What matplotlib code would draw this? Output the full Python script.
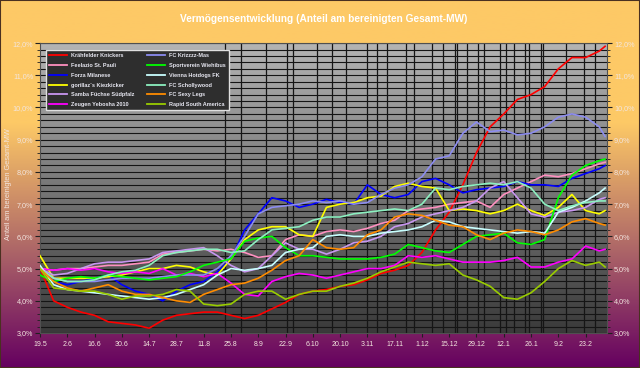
import numpy as np
import pandas as pd
import matplotlib
matplotlib.use('Agg')
import matplotlib.pyplot as plt
from matplotlib.colors import LinearSegmentedColormap
from matplotlib.ticker import MultipleLocator, FuncFormatter
from matplotlib.patches import Rectangle

plt.rcParams['font.family'] = ['Liberation Sans', 'DejaVu Sans']

# weekly samples from 19.5. on, last one a few days after the final week
start = pd.Timestamp('2010-05-19')
days = list(range(0, 288, 7)) + [290]
dates = [start + pd.Timedelta(days=d) for d in days]

teams = ['Krähfelder Knickers', 'Feelazio St. Pauli', 'Forza Milanese',
         'gorillaz´s Kiezkicker', 'Samba Füchse Südpfalz', 'Zeugen Yebosha 2010',
         'FC Krizzzz-Mas', 'Sportverein Wiehibus', 'Vienna Hotdogs FK',
         'FC Schollywood', 'FC Sexy Legs', 'Rapid South America']
colors = ['#ff0000', '#ff90c0', '#0000ff', '#ffff00', '#c896f0', '#ff00ff',
          '#8c8cf0', '#00ff00', '#c8ffff', '#8cf0c0', '#ff8c00', '#99cc00']

red = [5.0, 4.0, 3.8, 3.65, 3.55, 3.35, 3.3, 3.25, 3.15, 3.4, 3.55, 3.6, 3.65, 3.65,
       3.55, 3.45, 3.55, 3.75, 3.95, 4.2, 4.3, 4.35, 4.45, 4.5, 4.65, 4.85, 4.95, 5.1,
       5.5, 6.2, 6.75, 7.6, 8.6, 9.4, 9.8, 10.25, 10.4, 10.65, 11.2, 11.55, 11.55, 11.75, 11.9]
pink = [5.0, 4.95, 5.0, 5.0, 5.05, 5.1, 5.1, 5.15, 5.2, 5.45, 5.5, 5.55, 5.6, 5.55,
        5.6, 5.5, 5.35, 5.4, 5.9, 6.05, 6.0, 6.15, 6.2, 6.15, 6.25, 6.4, 6.5, 6.8,
        6.85, 6.9, 7.0, 7.05, 7.1, 6.9, 7.3, 7.5, 7.7, 7.9, 7.85, 7.95, 8.1, 8.25, 8.3]
blue = [5.0, 4.6, 4.5, 4.6, 4.7, 4.8, 4.5, 4.3, 4.2, 4.0, 4.3, 4.5, 4.6, 4.9,
        5.3, 6.2, 6.7, 7.2, 7.1, 6.9, 7.0, 7.15, 7.05, 7.0, 7.6, 7.3, 7.2, 7.3,
        7.7, 7.8, 7.6, 7.35, 7.45, 7.5, 7.55, 7.7, 7.6, 7.6, 7.55, 7.8, 7.95, 8.1, 8.2]
yellow = [5.4, 4.7, 4.7, 4.7, 4.7, 4.75, 4.8, 4.9, 5.0, 5.0, 5.1, 5.05, 4.9, 4.8,
          5.3, 5.9, 6.2, 6.3, 6.3, 6.05, 6.0, 6.9, 7.0, 7.05, 7.2, 7.25, 7.55, 7.65,
          7.55, 7.5, 6.8, 6.85, 6.8, 6.7, 6.8, 7.0, 6.8, 6.65, 6.9, 7.3, 6.8, 6.7, 6.8]
samba = [5.0, 4.8, 4.85, 5.0, 5.15, 5.2, 5.2, 5.25, 5.3, 5.5, 5.55, 5.6, 5.65, 5.4,
         5.1, 4.9, 5.0, 5.4, 5.8, 5.6, 5.6, 5.45, 5.6, 5.8, 5.85, 6.0, 6.3, 6.4,
         6.6, 6.7, 6.8, 6.9, 7.1, 7.5, 7.7, 7.2, 6.7, 6.6, 6.75, 6.8, 6.9, 7.15, 7.2]
magenta = [5.0, 4.95, 5.0, 4.95, 5.0, 4.9, 4.85, 4.9, 4.85, 5.0, 4.8, 4.85, 4.75, 4.85,
           4.55, 4.2, 4.15, 4.6, 4.75, 4.85, 4.8, 4.7, 4.8, 4.9, 5.0, 5.0, 5.1, 5.4,
           5.35, 5.4, 5.3, 5.2, 5.2, 5.2, 5.25, 5.35, 5.05, 5.05, 5.2, 5.3, 5.7, 5.55, 5.6]
krizzz = [5.0, 4.7, 4.6, 4.6, 4.6, 4.65, 4.7, 4.7, 4.7, 4.75, 4.8, 4.8, 4.8, 5.0,
          5.4, 6.0, 6.7, 6.9, 6.95, 7.0, 7.1, 7.05, 7.1, 7.0, 7.05, 7.3, 7.5, 7.6,
          7.85, 8.4, 8.5, 9.2, 9.55, 9.25, 9.3, 9.15, 9.2, 9.4, 9.7, 9.8, 9.7, 9.4, 9.1]
green = [4.8, 4.6, 4.7, 4.75, 4.7, 4.8, 4.75, 4.7, 4.65, 4.7, 4.75, 4.9, 5.1, 5.2,
         5.3, 5.85, 5.95, 6.0, 5.65, 5.4, 5.4, 5.35, 5.3, 5.3, 5.3, 5.35, 5.45, 5.75,
         5.65, 5.55, 5.5, 5.75, 6.0, 6.05, 6.1, 5.8, 5.75, 5.9, 7.2, 7.9, 8.2, 8.35, 8.4]
vienna = [5.1, 4.5, 4.35, 4.3, 4.25, 4.2, 4.15, 4.1, 4.05, 4.1, 4.2, 4.35, 4.5, 4.8,
          5.0, 4.95, 5.0, 5.1, 5.5, 5.6, 5.65, 6.0, 6.05, 6.0, 6.0, 6.1, 6.15, 6.2,
          6.3, 6.5, 6.45, 6.3, 6.25, 6.2, 6.15, 6.1, 6.15, 6.1, 6.75, 6.9, 7.1, 7.35, 7.5]
scholly = [5.0, 4.7, 4.6, 4.6, 4.65, 4.8, 4.9, 4.95, 5.1, 5.4, 5.5, 5.55, 5.6, 5.6,
           5.5, 5.55, 5.9, 6.2, 6.25, 6.3, 6.5, 6.6, 6.6, 6.7, 6.75, 6.8, 6.85, 6.8,
           7.0, 7.5, 7.45, 7.55, 7.6, 7.65, 7.6, 7.7, 7.5, 7.0, 6.8, 6.95, 7.05, 7.1, 7.1]
sexy = [5.0, 4.6, 4.4, 4.3, 4.4, 4.5, 4.3, 4.2, 4.2, 4.1, 4.0, 3.95, 4.2, 4.35,
        4.5, 4.55, 4.7, 4.95, 5.25, 5.4, 5.9, 5.65, 5.6, 5.65, 6.05, 6.2, 6.6, 6.7,
        6.65, 6.5, 6.35, 6.3, 6.05, 5.9, 6.1, 6.2, 6.15, 6.05, 6.2, 6.45, 6.55, 6.4, 6.35]
rapid = [5.0, 4.4, 4.35, 4.3, 4.3, 4.2, 4.05, 4.15, 4.15, 4.2, 4.35, 4.3, 3.9, 3.85,
         3.9, 4.2, 4.3, 4.3, 4.05, 4.2, 4.3, 4.3, 4.45, 4.55, 4.7, 4.9, 5.05, 5.2,
         5.15, 5.1, 5.15, 4.8, 4.65, 4.45, 4.1, 4.05, 4.25, 4.6, 5.0, 5.25, 5.1, 5.2, 5.05]
series = [red, pink, blue, yellow, samba, magenta, krizzz, green, vienna, scholly, sexy, rapid]

# dark vertical grid lines (days after 19.5.)
vlines_days = [95, 103, 116, 127, 130, 142, 150, 157, 168, 173, 178, 188, 192,
               201, 207, 213, 214, 219, 225, 228, 236, 239, 243, 249, 251,
               257, 258, 270, 279, 285]
tick_dates = pd.date_range(start, '2011-02-23', freq='14D')

fig = plt.figure(figsize=(6.4, 3.68), dpi=100)

# figure background: orange to purple
bg = fig.add_axes([0, 0, 1, 1], zorder=-10)
bg_cmap = LinearSegmentedColormap.from_list('bg', ['#650060', '#b06a68', '#fdc966', '#fdc966'])
bg.imshow(np.linspace(0, 1, 256).reshape(-1, 1), cmap=bg_cmap, aspect='auto',
          extent=(0, 1, 0, 1), origin='lower')
bg.set_axis_off()
fig.patches.append(Rectangle((0, 0), 1, 1, transform=fig.transFigure, fill=False,
                             edgecolor='#4a3020', lw=1.5))

ax = fig.add_axes([0.0625, 0.095, 0.886, 0.788])
plot_cmap = LinearSegmentedColormap.from_list('pl', ['#3a3a3a', '#b4b4b4'])
ax.imshow(np.linspace(0, 1, 256).reshape(-1, 1), cmap=plot_cmap, aspect='auto',
          extent=(0, 1, 0, 1), origin='lower', transform=ax.transAxes, zorder=0)

for d in vlines_days:
    ax.axvline(start + pd.Timedelta(days=d), color='#151515', lw=0.9, zorder=1)

for name, col, vals in zip(teams, colors, series):
    ax.plot(dates, vals, color=col, lw=1.2, label=name, zorder=3)

ax.set_xlim(start, start + pd.Timedelta(days=291))
ax.set_ylim(3, 12)
ax.yaxis.set_major_locator(MultipleLocator(1))
ax.yaxis.set_minor_locator(MultipleLocator(0.2))
ax.yaxis.set_major_formatter(FuncFormatter(lambda v, _: f'{v:.1f}%'.replace('.', ',')))
ax.grid(which='both', axis='y', color='#151515', lw=0.8, zorder=1)
ax.set_axisbelow(True)

ax.set_xticks(tick_dates)
ax.set_xticklabels([f'{d.day}.{d.month}' for d in tick_dates])

ax.tick_params(axis='y', which='both', left=True, right=True, labelright=True,
               labelsize=5.2, labelcolor='#f3e6e0', color='#202020', direction='out', pad=1.5)
ax.tick_params(axis='y', which='major', length=3.5)
ax.tick_params(axis='y', which='minor', length=2.5)
ax.tick_params(axis='x', labelsize=5, labelcolor='#f3e6e0', color='#202020', length=3, pad=2.5)
for s in ax.spines.values():
    s.set_color('#505050')

fig.text(0.505, 0.948, 'Vermögensentwicklung (Anteil am bereinigten Gesamt-MW)',
         ha='center', va='center', color='white', fontsize=7.3, fontweight='bold')
fig.text(0.013, 0.5, 'Anteil am bereinigten Gesamt-MW', rotation=90, ha='center',
         va='center', color='#f3e6e0', fontsize=5.3)

leg = ax.legend(ncol=2, loc='upper left', bbox_to_anchor=(0.01, 0.976), borderaxespad=0,
                prop={'size': 4.0, 'weight': 'bold'}, frameon=True, fancybox=False,
                facecolor='#2e2e2e', edgecolor='#e0e0e0', framealpha=1,
                handlelength=3.2, handletextpad=0.8, columnspacing=2.2,
                labelspacing=0.85, borderpad=0.6)
for t in leg.get_texts():
    t.set_color('#e6e6f0')
for h in leg.get_lines():
    h.set_linewidth(1.3)
leg.get_frame().set_linewidth(1.0)
leg.set_zorder(5)

fig.savefig('out.png', dpi=100)
